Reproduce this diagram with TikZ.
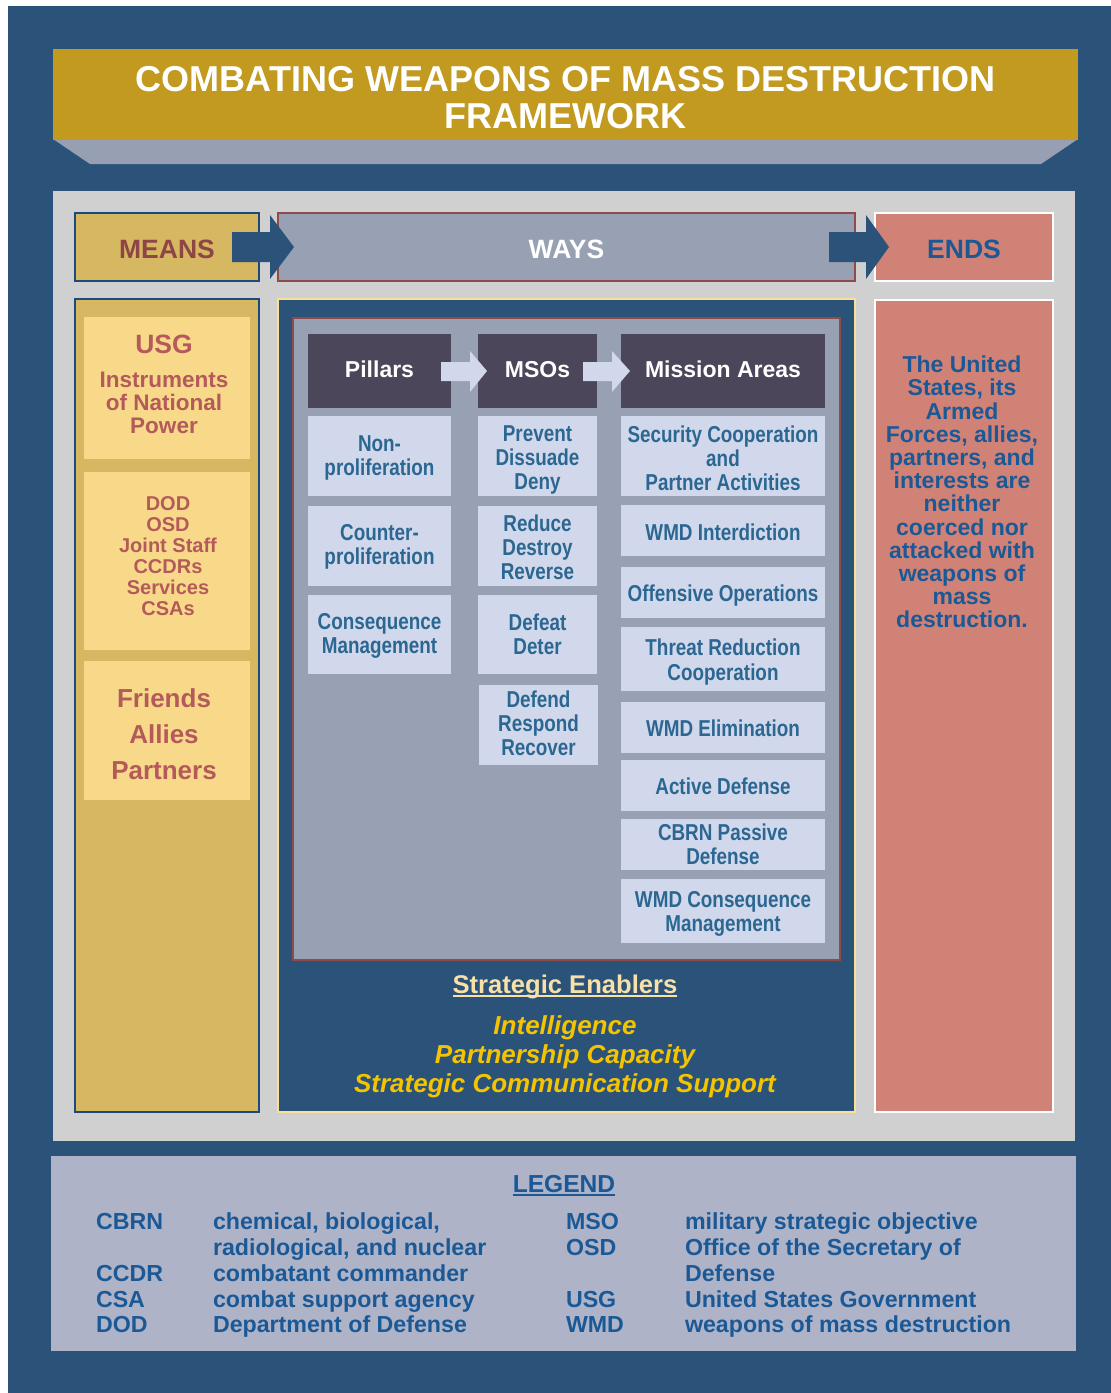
\documentclass[tikz,border=0pt]{standalone}
\usepackage{fontspec}
\setmainfont{Liberation Sans}
\newfontfamily\narrowfont[FakeStretch=0.82]{Liberation Sans}
\definecolor{bgblue}{HTML}{2B5279}
\definecolor{titlegold}{HTML}{C19A1F}
\definecolor{trapgray}{HTML}{97A0B3}
\definecolor{panelgray}{HTML}{D0D0D0}
\definecolor{meansfill}{HTML}{D6B862}
\definecolor{meansinner}{HTML}{F8D98A}
\definecolor{meansborder}{HTML}{1C4A7A}
\definecolor{waysfill}{HTML}{98A1B3}
\definecolor{waysborder}{HTML}{8F4A4A}
\definecolor{endsfill}{HTML}{D08276}
\definecolor{hdrdark}{HTML}{4B4659}
\definecolor{cellfill}{HTML}{D1D8EC}
\definecolor{celltext}{HTML}{2B6791}
\definecolor{meanstext}{HTML}{B45A5A}
\definecolor{meanslabel}{HTML}{8F4545}
\definecolor{endstext}{HTML}{1B5996}
\definecolor{legendfill}{HTML}{AEB3C8}
\definecolor{enabtitle}{HTML}{F8E0A6}
\definecolor{enabgold}{HTML}{F5C400}
\definecolor{waysframe}{HTML}{F9DF98}
% box from corners (px), text inside
\newcommand\bx[7]{\node[#1,minimum width={(#4-#2)*0.5pt},minimum height={(#5-#3)*0.5pt}] (#6) at ({(#2+#4)/2},{(#3+#5)/2}) {#7};}
% box from corners with its text as a separate node, shifted down by #9 px
\newcommand\tbx[9]{%
  \node[#1,minimum width={(#5-#3)*0.5pt},minimum height={(#6-#4)*0.5pt}] (#7) at ({(#3+#5)/2},{(#4+#6)/2}) {};
  \node[#2] (#7-t) at ([yshift={-#9*0.5pt}]#7.center) {#8};}
\tikzset{
  plain/.style={inner sep=0pt,outer sep=0pt,align=center},
  toplabel/.style={plain,font=\bfseries\fontsize{13.25}{14}\selectfont},
  hdr/.style={plain,fill=hdrdark,text=white,font=\bfseries\fontsize{11.5}{12}\selectfont},
  cellbox/.style={plain,fill=cellfill},
  celltxt/.style={plain,text=celltext,font=\narrowfont\bfseries\fontsize{11.5}{12.1}\selectfont},
  mtext/.style={plain,text=meanstext},
  legt/.style={inner sep=0pt,outer sep=0pt,anchor=base west,text=endstext,font=\bfseries\fontsize{11.6}{13}\selectfont},
}
\begin{document}
\begin{tikzpicture}[x=0.5pt,y=-0.5pt]
\useasboundingbox (0,0) rectangle (1111,1393);
\fill[white] (0,0) rectangle (1111,1393);
\fill[bgblue] (8,6) rectangle (1111,1393);
% title
\fill[trapgray] (53,139) -- (1078,139) -- (1041,164) -- (90,164) -- cycle;
\tbx{plain,fill=titlegold}{plain,text=white,font=\bfseries\fontsize{18}{18.5}\selectfont}{53}{49}{1078}{140}{title}{COMBATING WEAPONS OF MASS DESTRUCTION\\FRAMEWORK}{3}
% panel
\bx{plain,fill=panelgray}{53}{191}{1075}{1141}{panel}{}
% top row
\tbx{plain,fill=meansfill,draw=meansborder,line width=1pt}{toplabel,text=meanslabel}{75}{213}{259}{281}{means}{MEANS}{2}
\tbx{plain,fill=waysfill,draw=waysborder,line width=1pt}{toplabel,text=white}{278}{213}{855}{281}{ways}{WAYS}{2}
\tbx{plain,fill=endsfill,draw=white,line width=1.2pt}{toplabel,text=endstext}{875}{213}{1053}{281}{ends}{ENDS}{2}
\fill[bgblue] (232,232) -- (270,232) -- (270,215) -- (294,247) -- (270,279) -- (270,262) -- (232,262) -- cycle;
\fill[bgblue] (829,232) -- (866,232) -- (866,215) -- (889,247) -- (866,279) -- (866,262) -- (829,262) -- cycle;
% means column
\bx{plain,fill=meansfill,draw=meansborder,line width=1pt}{75}{299}{259}{1112}{meanscol}{}
\bx{plain,fill=meansinner}{84}{317}{250}{459}{usgbox}{}
\bx{plain,fill=meansinner}{84}{472}{250}{650}{dodbox}{}
\bx{plain,fill=meansinner}{84}{661}{250}{800}{friendbox}{}
\node[mtext,font=\bfseries\fontsize{13.25}{14}\selectfont] (usg) at (164,344) {USG};
\node[mtext,font=\bfseries\fontsize{11.25}{11.5}\selectfont] (instr) at (164,403) {Instruments\\of National\\Power};
\node[mtext,font=\bfseries\fontsize{10}{10.5}\selectfont] (dod) at (168,556) {DOD\\OSD\\Joint Staff\\CCDRs\\Services\\CSAs};
\node[mtext,font=\bfseries\fontsize{13}{17.9}\selectfont] (friends) at (164,734) {Friends\\Allies\\Partners};
% ways column
\bx{plain,fill=bgblue,draw=waysframe,line width=1pt}{278}{299}{855}{1112}{wayscol}{}
\bx{plain,fill=waysfill,draw=waysborder,line width=1.4pt}{293}{318}{840}{960}{inner}{}
\tbx{hdr}{hdr,fill=none}{308}{334}{451}{408}{pillars}{Pillars}{-1.5}
\tbx{hdr}{hdr,fill=none}{478}{334}{597}{408}{msos}{MSOs}{-1}
\tbx{hdr}{hdr,fill=none}{621}{334}{825}{408}{areas}{Mission Areas}{-1.5}
\fill[cellfill] (441,362) -- (470,362) -- (470,351) -- (487,371) -- (470,392) -- (470,381) -- (441,381) -- cycle;
\fill[cellfill] (583,362) -- (612,362) -- (612,351) -- (630,371) -- (612,392) -- (612,381) -- (583,381) -- cycle;
\tbx{cellbox}{celltxt}{308}{416}{451}{496}{p1}{Non-\\proliferation}{2}
\tbx{cellbox}{celltxt}{308}{506}{451}{586}{p2}{Counter-\\proliferation}{1}
\tbx{cellbox}{celltxt}{308}{595}{451}{674}{p3}{Consequence\\Management}{1}
\tbx{cellbox}{celltxt}{478}{416}{597}{496}{m1}{Prevent\\Dissuade\\Deny}{4}
\tbx{cellbox}{celltxt}{478}{506}{597}{586}{m2}{Reduce\\Destroy\\Reverse}{1}
\tbx{cellbox}{celltxt}{478}{595}{597}{674}{m3}{Defeat\\Deter}{0}
\tbx{cellbox}{celltxt}{479}{685}{598}{765}{m4}{Defend\\Respond\\Recover}{-2}
\tbx{cellbox}{celltxt}{621}{416}{825}{496}{a1}{Security Cooperation\\and\\Partner Activities}{2}
\tbx{cellbox}{celltxt}{621}{505}{825}{556}{a2}{WMD Interdiction}{2}
\tbx{cellbox}{celltxt}{621}{567}{825}{618}{a3}{Offensive Operations}{3}
\tbx{cellbox}{celltxt}{621}{627}{825}{691}{a4}{Threat Reduction\\Cooperation}{3}
\tbx{cellbox}{celltxt}{621}{702}{825}{753}{a5}{WMD Elimination}{1}
\tbx{cellbox}{celltxt}{621}{760}{825}{811}{a6}{Active Defense}{1}
\tbx{cellbox}{celltxt}{621}{819}{825}{870}{a7}{CBRN Passive\\Defense}{0}
\tbx{cellbox}{celltxt}{621}{879}{825}{943}{a8}{WMD Consequence\\Management}{3}
\node[plain,anchor=base,text=enabtitle,font=\bfseries\fontsize{12.8}{14}\selectfont] (enab) at (565,993) {Strategic Enablers};
\draw[enabtitle,line width=1pt] ([yshift=-1.5pt]enab.base west) -- ([yshift=-1.5pt]enab.base east);
\node[plain,text=enabgold,font=\bfseries\itshape\fontsize{13}{14.5}\selectfont] (enablers) at (565,1057) {Intelligence\\Partnership Capacity\\Strategic Communication Support};
% ends column
\bx{plain,fill=endsfill,draw=white,line width=1.4pt}{875}{300}{1053}{1112}{endscol}{}
\node[plain,text=endstext,font=\bfseries\fontsize{11.5}{11.6}\selectfont] (endstxt) at (962,492) {The United\\States, its\\Armed\\Forces, allies,\\partners, and\\interests are\\neither\\coerced nor\\attacked with\\weapons of\\mass\\destruction.};
% legend
\bx{plain,fill=legendfill}{51}{1156}{1076}{1351}{legend}{}
\node[plain,anchor=base,text=endstext,font=\bfseries\fontsize{12.3}{14}\selectfont] (legtitle) at (564,1192) {LEGEND};
\draw[endstext,line width=1pt] ([yshift=-1.5pt]legtitle.base west) -- ([yshift=-1.5pt]legtitle.base east);
\node[legt] (k1) at (96,1229) {CBRN};
\node[legt] (d1) at (213,1229) {chemical, biological,};
\node[legt] (d1b) at (213,1255) {radiological, and nuclear};
\node[legt] (k2) at (96,1281) {CCDR};
\node[legt] (d2) at (213,1281) {combatant commander};
\node[legt] (k3) at (96,1307) {CSA};
\node[legt] (d3) at (213,1307) {combat support agency};
\node[legt] (k4) at (96,1332) {DOD};
\node[legt] (d4) at (213,1332) {Department of Defense};
\node[legt] (k5) at (566,1229) {MSO};
\node[legt] (d5) at (685,1229) {military strategic objective};
\node[legt] (k6) at (566,1255) {OSD};
\node[legt] (d6) at (685,1255) {Office of the Secretary of};
\node[legt] (d6b) at (685,1281) {Defense};
\node[legt] (k7) at (566,1307) {USG};
\node[legt] (d7) at (685,1307) {United States Government};
\node[legt] (k8) at (566,1332) {WMD};
\node[legt] (d8) at (685,1332) {weapons of mass destruction};
\end{tikzpicture}
\end{document}
